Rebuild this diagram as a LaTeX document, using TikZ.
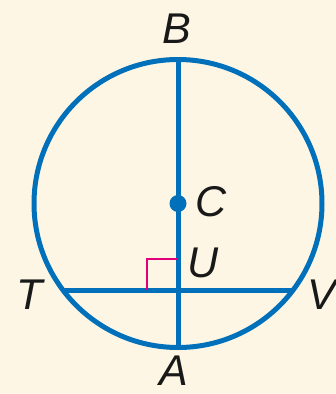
\documentclass[tikz,border=0pt]{standalone}
\usepackage{fontspec}
\setmainfont{Liberation Sans}
\definecolor{bg}{RGB}{253,246,229}
\definecolor{geoblue}{RGB}{0,112,186}
\definecolor{anglepink}{RGB}{226,0,122}
\begin{document}
\begin{tikzpicture}[x=1pt,y=-1pt,
  geo/.style={draw=geoblue,line width=5pt},
  lbl/.style={inner sep=0pt,font=\fontsize{43}{43}\selectfont\itshape,text=black!90}]
\fill[bg] (0,0) rectangle (336,394);
\useasboundingbox (0,0) rectangle (336,394);
\coordinate (Cc) at (178,203.5);
\coordinate (Bp) at (178,59);
\coordinate (Ap) at (178,348);
\coordinate (Tp) at (63,290);
\coordinate (Vp) at (293.5,290);
\coordinate (Up) at (178,290);
\coordinate (Ra) at (147,290);
\coordinate (Rb) at (178,259);
\node[geo,circle,minimum size=288,inner sep=0pt] (circ) at (Cc) {};
\draw[geo,line cap=butt] (Bp) -- (Ap);
\draw[geo,line cap=butt] (Tp) -- (Vp);
\draw[draw=anglepink,line width=1.7pt] (Ra) |- (Rb);
\fill[geoblue] (Cc) circle (8.5);
\node[lbl] (B) at (177,29) {B};
\node[lbl] (C) at (211,202) {C};
\node[lbl] (U) at (203,263) {U};
\node[lbl] (T) at (30,295) {T};
\node[lbl] (V) at (322,295) {V};
\node[lbl] (A) at (174,371) {A};
\end{tikzpicture}
\end{document}
